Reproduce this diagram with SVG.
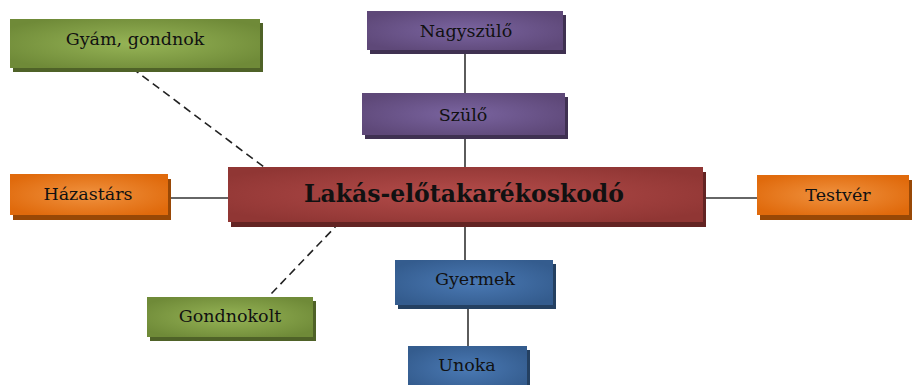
<svg xmlns="http://www.w3.org/2000/svg" width="912" height="385" viewBox="0 0 912 385">
<defs>
<radialGradient id="gGreen" cx="50%" cy="50%" r="60%"><stop offset="0" stop-color="#96B456"/><stop offset="1" stop-color="#6F8A38"/></radialGradient>
<radialGradient id="gPurple" cx="50%" cy="50%" r="60%"><stop offset="0" stop-color="#7A64A0"/><stop offset="1" stop-color="#5E4878"/></radialGradient>
<radialGradient id="gRed" cx="50%" cy="50%" r="60%"><stop offset="0" stop-color="#B44C4A"/><stop offset="1" stop-color="#903634"/></radialGradient>
<radialGradient id="gOrange" cx="50%" cy="50%" r="60%"><stop offset="0" stop-color="#F0923F"/><stop offset="1" stop-color="#E06A0C"/></radialGradient>
<radialGradient id="gBlue" cx="50%" cy="50%" r="60%"><stop offset="0" stop-color="#4A79B4"/><stop offset="1" stop-color="#345C8E"/></radialGradient>
</defs>
<style>
text{font-family:'DejaVu Serif',serif;fill:#111;text-anchor:middle}
.t{font-size:17.5px}
.tb{font-size:23.5px;font-weight:bold}
.ln{stroke:#333;stroke-width:1.6;fill:none}
.dl{stroke:#222;stroke-width:1.6;fill:none;stroke-dasharray:8,5}
.sg{fill:#4F6228}.sp{fill:#3F3151}.sr{fill:#632423}.so{fill:#984806}.sb{fill:#244061}
</style>
<g id="connectors">
<line class="ln" x1="465" y1="50" x2="465" y2="93"/>
<line class="ln" x1="465" y1="135" x2="465" y2="167"/>
<line class="ln" x1="168" y1="198" x2="228" y2="198"/>
<line class="ln" x1="703" y1="198" x2="757" y2="198"/>
<line class="ln" x1="465" y1="222" x2="465" y2="260"/>
<line class="ln" x1="468" y1="305" x2="468" y2="346"/>
<line class="dl" x1="132" y1="68" x2="268" y2="170"/>
<line class="dl" x1="340" y1="222" x2="270" y2="295"/>
</g>
<g id="gyam">
<rect class="sg" x="13" y="23" width="250" height="49"/>
<rect x="10" y="19" width="250" height="49" fill="url(#gGreen)"/>
<text class="t" x="135" y="45">Gyám, gondnok</text>
</g>
<g id="nagyszulo">
<rect class="sp" x="370" y="15" width="196" height="39"/>
<rect x="367" y="11" width="196" height="39" fill="url(#gPurple)"/>
<text class="t" x="466" y="37">Nagyszülő</text>
</g>
<g id="szulo">
<rect class="sp" x="365" y="97" width="203" height="42"/>
<rect x="362" y="93" width="203" height="42" fill="url(#gPurple)"/>
<text class="t" x="463" y="121">Szülő</text>
</g>
<g id="center">
<rect class="sr" x="231" y="172" width="475" height="55"/>
<rect x="228" y="167" width="475" height="55" fill="url(#gRed)"/>
<text class="tb" x="464" y="202">Lakás-előtakarékoskodó</text>
</g>
<g id="hazastars">
<rect class="so" x="13" y="179" width="158" height="41"/>
<rect x="10" y="174" width="158" height="41" fill="url(#gOrange)"/>
<text class="t" x="88" y="200">Házastárs</text>
</g>
<g id="testver">
<rect class="so" x="760" y="180" width="152" height="40"/>
<rect x="757" y="175" width="152" height="40" fill="url(#gOrange)"/>
<text class="t" x="838" y="201">Testvér</text>
</g>
<g id="gondnokolt">
<rect class="sg" x="150" y="301" width="166" height="40"/>
<rect x="147" y="297" width="166" height="40" fill="url(#gGreen)"/>
<text class="t" x="230" y="322">Gondnokolt</text>
</g>
<g id="gyermek">
<rect class="sb" x="398" y="264" width="158" height="45"/>
<rect x="395" y="260" width="158" height="45" fill="url(#gBlue)"/>
<text class="t" x="475" y="285">Gyermek</text>
</g>
<g id="unoka">
<rect class="sb" x="411" y="350" width="119" height="40"/>
<rect x="408" y="346" width="119" height="45" fill="url(#gBlue)"/>
<text class="t" x="467" y="371">Unoka</text>
</g>
</svg>
